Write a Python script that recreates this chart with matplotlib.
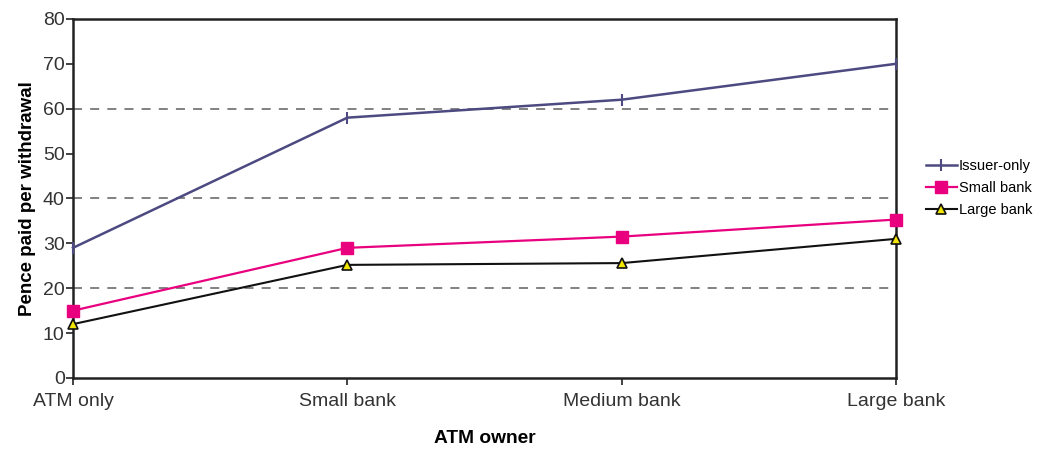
import matplotlib
matplotlib.use("Agg")
import matplotlib.pyplot as plt

plt.rcParams['font.family'] = ['Liberation Sans', 'DejaVu Sans']

owners = ["ATM only", "Small bank", "Medium bank", "Large bank"]
issuer_only = [29, 58, 62, 70]
small_bank = [15, 29, 31.5, 35.3]
large_bank = [12, 25.2, 25.6, 31]

fig = plt.figure(figsize=(10.37, 4.5), dpi=100)
ax = fig.add_axes([0.0704, 0.16, 0.7937, 0.798])

x = range(len(owners))
ax.plot(x, issuer_only, color='#4c4a80', lw=1.8, marker='|', ms=9, mew=1.5,
        label='Issuer-only', zorder=3, clip_on=False)
ax.plot(x, small_bank, color='#e8007f', lw=1.6, marker='s', ms=8,
        label='Small bank', zorder=3, clip_on=False)
ax.plot(x, large_bank, color='#111111', lw=1.5, marker='^', ms=6.5,
        mfc='#f2e600', mec='#111111', mew=1.2, label='Large bank', zorder=3,
        clip_on=False)

ax.set_xlim(0, 3)
ax.set_ylim(0, 80)
ax.set_yticks(range(0, 81, 10))
ax.set_xticks(list(x))
ax.set_xticklabels(owners)
for gy in [20, 40, 60]:
    ax.axhline(gy, color='#777777', lw=1.3, ls=(0, (5, 4.5)), zorder=1)

for s in ax.spines.values():
    s.set_color('#222222')
    s.set_linewidth(1.8)
ax.tick_params(axis='both', labelsize=14, colors='#222222', length=5, width=1.2,
               labelcolor='#333333')
ax.tick_params(axis='x', pad=6)
ax.tick_params(axis='y', pad=1)

ax.set_xlabel('ATM owner', fontsize=13.8, fontweight='bold', labelpad=14)
ax.set_ylabel('Pence paid per withdrawal', fontsize=13.5, fontweight='bold', labelpad=5)

ax.legend(loc='center left', bbox_to_anchor=(1.024, 0.53), frameon=False,
          fontsize=10.5, handlelength=2.1, handletextpad=0.15, labelspacing=0.55,
          borderaxespad=0.3)

fig.savefig('out.png', dpi=100)
